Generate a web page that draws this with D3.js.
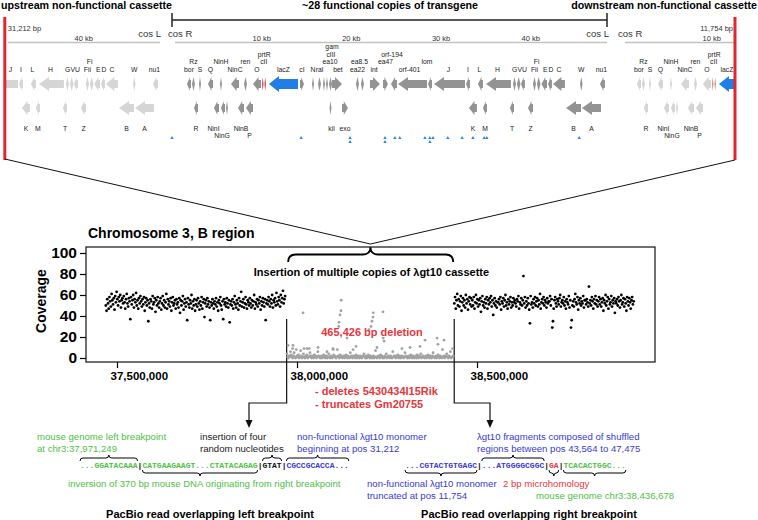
<!DOCTYPE html>
<html>
<head>
<meta charset="utf-8">
<script src="https://cdn.jsdelivr.net/npm/d3@7"></script>
<style>
  body { margin: 0; background: #fff; }
  svg { display: block; font-family: "Liberation Sans", Arial, sans-serif; }
</style>
</head>
<body>
<script>
// ---------------- data ----------------
// lambda map genes: [label, startKb, endKb, strand, labelLevel, labelDx, kind]
const genesTop = [
  ["bor", 1.67, 2.12, -1, 0, 0, "g"], ["Rz", 2.23, 2.56, -1, 1, 0, "g"],
  ["S", 3.01, 3.23, -1, 0, 0, "g"], ["Q", 4.01, 4.57, -1, 0, 0, "g"],
  ["NinH", 5.35, 5.57, -1, 1, 0, "g"], ["NinC", 6.58, 7.47, -1, 0, 0, "g"],
  ["ren", 8.03, 8.36, -1, 1, 0, "g"], ["O", 9.03, 9.92, -1, 0, 0, "g"],
  ["cII", 10.03, 10.2, -1, 1, 1, "r"], ["prtR", 10.31, 10.48, -1, 2, -1, "r"],
  ["lacZ", 10.81, 14.05, -1, 0, 0, "b"], ["cI", 14.27, 14.72, 1, 0, 0, "g"],
  ["N", 15.61, 15.83, 1, 0, 0, "g"], ["ral", 16.28, 16.61, 1, 0, 0, "g"],
  ["ea10", 16.83, 17.06, 1, 1, 6, "g"], ["cIII", 17.17, 17.39, 1, 2, 4, "g"],
  ["gam", 17.5, 17.84, 1, 3, 1.5, "g"], ["bet", 17.84, 18.95, 1, 0, 1, "g"],
  ["ea22", 20.51, 20.85, 1, 0, 0, "g"], ["ea8.5", 21.07, 21.4, 1, 1, -3, "g"],
  ["int", 22.07, 23.19, 1, 0, -1, "g"], ["ea47", 23.52, 24.08, 1, 1, 0, "g"],
  ["orf-194", 24.41, 25.08, -1, 2, -2, "g"], ["orf-401", 25.2, 28.43, -1, 0, -3, "g"],
  ["lom", 28.54, 28.99, -1, 1, -3, "g"], ["J", 29.21, 32.67, -1, 0, -1, "g"],
  ["I", 32.78, 33.22, -1, 0, 0, "g"], ["L", 34.11, 34.67, -1, 0, -1, "g"],
  ["H", 35.01, 37.79, -1, 0, -1, "g"], ["GVU", 38.02, 38.35, -1, 0, 5, "g"],
  ["", 38.46, 38.85, -1, 0, 0, "g"], ["", 38.91, 39.35, -1, 0, 0, "g"],
  ["Fii", 40.25, 40.58, -1, 0, 0, "g"], ["Fi", 40.69, 41.08, -1, 1, -2, "g"],
  ["E", 41.19, 41.81, -1, 0, 1, "g"], ["D", 41.92, 42.36, -1, 0, 1, "g"],
  ["C", 42.48, 43.81, -1, 0, 0, "g"], ["W", 45.49, 45.77, -1, 0, 0, "g"],
  ["nu1", 47.72, 48.27, -1, 0, -1, "g"]
];
const genesBottom = [
  ["R", 2.45, 2.9, -1, 0, 0, "g"], ["NinI", 4.68, 5.24, -1, 0, -3, "g"],
  ["NinG", 5.46, 5.91, -1, 1, -1, "g"], ["", 6.02, 6.24, -1, 0, 0, "g"],
  ["NinB", 7.36, 8.03, -1, 0, 0, "g"], ["P", 8.25, 9.03, -1, 1, 0, "g"],
  ["kil", 17.56, 17.78, 1, 0, 1, "g"], ["exo", 18.95, 19.62, 1, 0, 0, "g"],
  ["K", 33.11, 34.0, -1, 0, 0, "g"], ["M", 34.67, 35.12, -1, 0, 0, "g"],
  ["T", 37.68, 38.13, -1, 0, 0, "g"], ["Z", 39.69, 40.25, -1, 0, 0, "g"],
  ["B", 43.93, 45.6, -1, 0, 0, "g"], ["A", 45.71, 47.83, -1, 0, 0, "g"]
];
// blue markers under the functional copy (kb)
const markerKb = [0.0, 14.4, 19.85, 19.85, 23.75, 23.75, 24.85, 25.4, 28.2, 28.75, 28.75,
                  29.1, 30.75, 32.35, 33.55, 34.8, 35.1, 45.4];
// three cassette copies: upstream (partial), functional, downstream (partial)
const copyOffsetKb = [-49.84, 0, 50.17];
const copyStartKb = [31.2, 0, 0];
const copyEndKb = [48.5, 48.5, 12.6];
const kbTicks = [10, 20, 30, 40];

// coverage (2 kb bins)
const binSize = 2000;
const leftStart = 37469000, delStart = 37972000, rightStart = 38437000;
const leftBreak = 37971249, rightBreak = 38436678;
const leftCov = [
  50,45,56,52,47,58,54,49,61,55,51,57,46,59,53,63,56,50,58,54,60,48,55,57,52,
  59,53,47,56,61,52,49,57,54,37,58,51,55,60,48,56,53,62,50,55,47,57,52,59,54,
  49,56,51,58,45,53,57,50,55,35,52,48,56,54,47,59,51,53,57,44,55,50,58,52,48,
  54,57,46,52,59,50,55,48,53,61,47,56,51,54,49,57,45,53,58,50,52,55,47,56,51,
  53,48,57,43,55,50,54,59,46,52,56,49,53,36,57,51,48,55,52,60,47,54,50,56,45,
  51,55,49,57,52,46,54,50,58,47,53,56,39,52,55,49,57,51,54,48,36,53,50,56,52,
  47,54,51,57,49,53,45,55,52,58,50,46,54,37,56,51,53,49,57,52,48,55,34,51,54,
  50,56,47,53,59,51,48,55,52,46,57,50,54,63,49,53,56,48,52,58,51,47,55,53,50,
  57,52,48,55,50,54,60,47,53,51,56,49,55,52,58,46,54,50,57,53,49,56,36,52,55,
  51,58,54,49,56,52,60,48,55,53,57,50,62,54,51,58,55,49,60,53,57,64,52,56,59
];
const delCov = [
  4,1,0,2,1,6,3,1,0,2,5,1,0,8,2,1,3,0,1,7,2,0,1,4,1,
  0,2,1,3,0,1,9,2,1,0,2,1,0,3,1,2,0,1,6,2,1,0,1,2,0,
  1,3,2,0,1,2,0,1,4,1,0,2,1,0,1,3,2,1,0,1,8,2,1,0,3,
  2,1,0,1,2,0,1,3,1,0,2,1,0,5,1,2,0,1,2,1,0,3,1,0,2,
  1,0,2,1,0,1,2,4,1,0,2,0,1,3,1,0,2,1,0,1,2,0,1,7,1,
  0,1,2,1,0,3,1,2,0,1,0,2,1,4,0,1,2,1,0,2,1,0,6,1,2,
  1,0,2,1,3,0,1,2,0,1,2,1,0,1,5,2,1,0,1,2,0,1,3,1,0,
  2,1,0,1,2,0,3,1,0,2,1,4,0,1,2,1,0,1,2,0,1,3,1,0,2,
  1,0,2,5,1,0,1,2,0,1,3,1,0,2,1,0,8,1,2,0,1,2,4,1,0,
  2,1,6,0,1,9,2
];
const delSpikes = [
  [37975000,12],[37988900,12],[37988000,9],[38016700,43],[38019500,9],[38027800,9],
  [38036100,5],[38058400,10],[38083300,6],[38100000,9],[38100500,8],[38116700,34],
  [38116000,30],[38119500,41],[38122200,45],[38122800,55],[38138900,19],[38155600,8],
  [38163900,11],[38200000,27],[38205600,30],[38208300,35],[38211100,39],[38211900,43],
  [38222200,10],[38238900,44],[38239500,19],[38241700,16],[38291700,9],[38313900,10],
  [38341700,11],[38355600,17],[38388900,19],[38391700,13],[38408300,17]
];
const rightCov = [
  52,58,47,55,61,50,56,49,54,59,45,53,57,50,55,48,60,52,56,46,54,58,51,57,49,
  55,50,58,47,53,60,52,56,49,55,51,57,44,54,59,50,53,48,56,52,58,47,55,51,57,
  53,59,49,55,41,52,57,50,54,48,53,53,56,51,58,46,54,52,57,49,55,60,50,53,47,
  56,51,54,58,48,53,50,57,53,55,52,49,56,54,59,47,53,51,57,50,55,78,52,58,48,
  54,50,57,52,46,33,59,51,53,48,56,52,58,50,54,57,49,55,51,61,47,53,56,52,58,
  50,55,53,48,57,52,54,54,59,50,56,29,35,47,55,58,52,49,56,54,51,57,60,49,53,
  55,52,58,50,54,47,56,53,51,59,48,55,29,36,50,54,49,56,61,53,51,58,46,55,52,
  57,50,54,52,59,48,55,55,51,56,53,49,68,52,55,50,58,54,47,56,52,59,51,55,49,
  54,58,51,56,49,53,57,45,55,52,60,50,54,58,47,56,51,53,59,49,55,52,57,43,54,
  52,56,50,58,54,48,55,60,51,53,57,49,56,52,45,58,54,50,57,53,47,55,58,51,54
];
const yTicks = [0, 20, 40, 60, 80, 100];
const xTicks = [37500000, 38000000, 38500000];

// breakpoint read sequences: [text, colour key]
const seqLeft = [["...GGATACAAA", "green"], ["|", "black"], ["CATGAAGAAGT...CTATACAGAG", "green"],
                 ["|GTAT|", "black"], ["CGCCGCACCA...", "blue"]];
const seqRight = [["...CGTACTGTGAGC", "blue"], ["|", "black"], ["...ATGGGGCGGC", "blue"],
                  ["|", "black"], ["GA", "red"], ["|", "black"], ["TCACACTGGC...", "green"]];

// ---------------- drawing ----------------
const width = 758, height = 520;
const col = { green: "#4fbf45", blue: "#3a3ad2", red: "#e8363b", black: "#111" };

const svg = d3.select("body").append("svg")
  .attr("width", width)
  .attr("height", height);

function txt(x, y, s, opts = {}) {
  return svg.append("text")
    .attr("x", x).attr("y", y)
    .attr("font-size", opts.size || 9.6)
    .attr("font-weight", opts.bold ? "bold" : null)
    .attr("text-anchor", opts.anchor || "start")
    .attr("fill", opts.fill || "#000")
    .text(s);
}

// curly brace, tip pointing up (up=true) or down
function brace(x0, x1, yEnd, h, up, xm, sw) {
  xm = xm ?? (x0 + x1) / 2;
  const s = up ? -1 : 1;
  const yBar = yEnd + s * h / 2, yTip = yEnd + s * h;
  const r = Math.min(h / 2, (x1 - x0) / 4);
  svg.append("path")
    .attr("d", `M${x0},${yEnd} Q${x0},${yBar} ${x0 + r},${yBar} L${xm - r},${yBar} Q${xm},${yBar} ${xm},${yTip}` +
               ` Q${xm},${yBar} ${xm + r},${yBar} L${x1 - r},${yBar} Q${x1},${yBar} ${x1},${yEnd}`)
    .attr("fill", "none").attr("stroke", "#000").attr("stroke-width", sw || 1);
}

// ---- top: lambda cassette map ----
const xKb = d3.scaleLinear().domain([0, 48.5]).range([172, 607]);

txt(1, 9, "upstream non-functional cassette", { size: 10.7, bold: true });
txt(390, 9, "~28 functional copies of transgene", { size: 10.7, bold: true, anchor: "middle" });
txt(757, 9, "downstream non-functional cassette", { size: 10.7, bold: true, anchor: "end" });

// bracket over functional copy
svg.append("path")
  .attr("d", `M${xKb(0)},13 V27 M${xKb(0)},20 H${xKb(48.5)} M${xKb(48.5)},13 V27`)
  .attr("fill", "none").attr("stroke", "#222").attr("stroke-width", 1.5);

function genePath(x0, x1, strand, yc, hh, bh) {
  const w = x1 - x0;
  if (w < 3.5) {
    const xm = (x0 + x1) / 2;
    return `M${x0},${yc} L${xm},${yc - hh / 2} L${x1},${yc} L${xm},${yc + hh / 2} Z`;
  }
  const head = Math.min(10, w * 0.7);
  if (strand < 0) {
    const xh = x0 + head;
    return `M${x0},${yc} L${xh},${yc - hh / 2} L${xh},${yc - bh / 2} L${x1},${yc - bh / 2} L${x1},${yc + bh / 2} L${xh},${yc + bh / 2} L${xh},${yc + hh / 2} Z`;
  }
  const xh = x1 - head;
  return `M${x1},${yc} L${xh},${yc - hh / 2} L${xh},${yc - bh / 2} L${x0},${yc - bh / 2} L${x0},${yc + bh / 2} L${xh},${yc + bh / 2} L${xh},${yc + hh / 2} Z`;
}

const defs = svg.append("defs");
const rowY = [84, 108];
const topLabelY = [72, 64.4, 56.8, 49.2];
const botLabelY = [130.5, 138];

copyOffsetKb.forEach((off, ci) => {
  const lo = xKb(copyStartKb[ci] + off), hi = xKb(copyEndKb[ci] + off);
  const cosR = xKb(0 + off), cosL = xKb(48.5 + off);
  const functional = ci === 1;
  const gray = functional ? "#939393" : "#d5d5d5";
  const fillOf = k => k === "b" ? "#1f7fe6" : k === "r" ? (functional ? "#d9484c" : "#e08a8a") : gray;

  defs.append("clipPath").attr("id", "clip" + ci)
    .append("rect").attr("x", lo).attr("y", 40).attr("width", hi - lo).attr("height", 80);
  const g = svg.append("g").attr("clip-path", `url(#clip${ci})`);

  // scale line and kb labels
  const l0 = Math.max(lo + 3, cosR), l1 = Math.min(hi, cosL);
  svg.append("line").attr("x1", l0).attr("x2", l1).attr("y1", 42.5).attr("y2", 42.5)
    .attr("stroke", "#c2c2c2").attr("stroke-width", 1.6);
  kbTicks.filter(k => k > copyStartKb[ci] + 1 && k < copyEndKb[ci] - 1).forEach(k => {
    txt(xKb(k + off), 40.5, `${k} kb`, { size: 7.5, anchor: "middle", fill: "#333" });
  });

  [[genesTop, rowY[0], topLabelY], [genesBottom, rowY[1], botLabelY]].forEach(([genes, yc, labY]) => {
    genes.forEach(([label, s, e, strand, lev, dx, kind]) => {
      const x0 = xKb(s + off), x1 = xKb(e + off);
      if (x1 <= lo || x0 >= hi) return;
      const big = kind === "b";
      g.append("path")
        .attr("d", genePath(x0, x1, strand, yc, big ? 16 : 14, big ? 10 : 8))
        .attr("fill", fillOf(kind));
      if (label) {
        const cx = (Math.max(x0, lo) + Math.min(x1, hi)) / 2 + dx;
        txt(cx, labY[lev], label, { size: 6.8, anchor: "middle", fill: "#222" });
      }
    });
  });
});

// cos labels
[[xKb(48.5 - 49.84) + 1, "cos L", "end"], [xKb(0) - 4, "cos R", "start"],
 [xKb(48.5) + 2, "cos L", "end"], [xKb(50.17) - 4, "cos R", "start"]].forEach(([x, s, a]) => {
  txt(x, 37, s, { size: 9.5, anchor: a, fill: "#333" });
});
txt(xKb(31.2 - 49.84) + 3, 31, "31,212 bp", { size: 7.5, fill: "#333" });
txt(xKb(12.6 + 50.17) - 2, 31, "11,754 bp", { size: 7.5, anchor: "end", fill: "#333" });

// blue markers
const seen = {};
markerKb.forEach(k => {
  const n = seen[k] = (seen[k] || 0) + 1;
  const x = xKb(k), y = 139 + (n - 1) * 4;
  svg.append("path").attr("d", `M${x - 1.7},${y} L${x + 1.7},${y} L${x},${y - 3} Z`).attr("fill", "#2a85e0");
});

// red cassette boundaries
const redL = xKb(31.2 - 49.84), redR = xKb(12.6 + 50.17);
[redL, redR].forEach(x => {
  svg.append("line").attr("x1", x).attr("x2", x).attr("y1", 17).attr("y2", 160)
    .attr("stroke", "#e3262b").attr("stroke-width", 3);
});

// ---- coverage plot ----
const plot = { left: 86, right: 655, top: 247, bottom: 362 };
const xCov = d3.scaleLinear().domain([37413900, 38994400]).range([plot.left, plot.right]);
const yCov = d3.scaleLinear().domain([0, 100]).range([358, 253]);
const tipX = (xCov(leftBreak) + xCov(rightBreak)) / 2;

// connector lines from cassette edges to the insertion brace
svg.append("path")
  .attr("d", `M${redL},159 L${tipX},244 L${redR},160`)
  .attr("fill", "none").attr("stroke", "#111").attr("stroke-width", 1);
brace(xCov(leftBreak) + 1.5, xCov(rightBreak) - 1, 262, 15, true, tipX, 1.8);

txt(88, 238, "Chromosome 3, B region", { size: 14, bold: true });
txt(tipX + 1, 276, "Insertion of multiple copies of λgt10 cassette", { size: 11, bold: true, anchor: "middle" });

svg.append("rect")
  .attr("x", plot.left).attr("y", plot.top)
  .attr("width", plot.right - plot.left).attr("height", plot.bottom - plot.top)
  .attr("fill", "none").attr("stroke", "#111").attr("stroke-width", 1.2);

const yAxis = svg.append("g").attr("transform", `translate(${plot.left},0)`)
  .call(d3.axisLeft(yCov).tickValues(yTicks).tickSize(6).tickPadding(3));
yAxis.select(".domain").remove();
yAxis.selectAll("text").attr("font-size", 15.5).attr("font-weight", "bold")
  .attr("font-family", "Liberation Sans, Arial, sans-serif");
yAxis.selectAll("line").attr("stroke-width", 1.2);

const xAxis = svg.append("g").attr("transform", `translate(0,${plot.bottom})`)
  .call(d3.axisBottom(xCov).tickValues(xTicks).tickSize(6).tickFormat(d3.format(",")));
xAxis.select(".domain").remove();
xAxis.selectAll("text").attr("font-size", 11.5).attr("font-weight", "bold")
  .attr("font-family", "Liberation Sans, Arial, sans-serif")
  .attr("text-anchor", "start").attr("x", -7).attr("y", 18).attr("dy", 0);
xAxis.selectAll("line").attr("stroke-width", 1.2);

svg.append("text")
  .attr("transform", `translate(46,301) rotate(-90)`)
  .attr("text-anchor", "middle").attr("font-size", 14).attr("font-weight", "bold")
  .text("Coverage");

// breakpoint marker lines and arrows
[[xCov(leftBreak), 249], [xCov(rightBreak), 490]].forEach(([x, xa]) => {
  svg.append("path").attr("d", `M${x},319 V403 H${xa} V421`)
    .attr("fill", "none").attr("stroke", "#111").attr("stroke-width", 1.2);
  svg.append("path").attr("d", `M${xa - 3.5},420 L${xa + 3.5},420 L${xa},428 Z`).attr("fill", "#111");
});

// points
const gray = delCov.map((v, i) => [delStart + i * binSize, v]).concat(delSpikes);
svg.append("g").selectAll("circle").data(gray).join("circle")
  .attr("cx", d => xCov(d[0])).attr("cy", d => yCov(d[1])).attr("r", 1.4).attr("fill", "#a2a2a2");
const black = leftCov.map((v, i) => [leftStart + i * binSize, v])
  .concat(rightCov.map((v, i) => [rightStart + i * binSize, v]));
svg.append("g").selectAll("circle").data(black).join("circle")
  .attr("cx", d => xCov(d[0])).attr("cy", d => yCov(d[1])).attr("r", 1.4).attr("fill", "#000");

txt(372, 336, "465,426 bp deletion", { size: 11, bold: true, anchor: "middle", fill: col.red });
txt(315, 395, "- deletes 5430434I15Rik", { size: 11, bold: true, fill: col.red });
txt(315, 408, "- truncates Gm20755", { size: 11, bold: true, fill: col.red });

// ---- breakpoint reads ----
const cw = 4.8; // char advance of 8px mono
function seqLine(x0, y, parts) {
  const t = svg.append("text").attr("x", x0).attr("y", y)
    .attr("font-family", "Liberation Mono, Courier New, monospace")
    .attr("font-size", 8).attr("font-weight", "bold");
  parts.forEach(([s, c]) => t.append("tspan").attr("fill", col[c]).text(s));
}
const sxL = 80, sxR = 405;
seqLine(sxL, 468, seqLeft);
seqLine(sxR, 468, seqRight);
const cx = (x0, i) => x0 + i * cw;

brace(cx(sxL, 0), cx(sxL, 12), 461, 6, true);
brace(cx(sxL, 38), cx(sxL, 42), 461, 6, true);
brace(cx(sxL, 43), cx(sxL, 56), 461, 6, true);
brace(cx(sxL, 13), cx(sxL, 37), 470, 6, false);
brace(cx(sxR, 16), cx(sxR, 29), 461, 6, true);
brace(cx(sxR, 0), cx(sxR, 15), 470, 6, false);
brace(cx(sxR, 30), cx(sxR, 32), 470, 6, false);
brace(cx(sxR, 33), cx(sxR, 46), 470, 6, false);

txt(37, 440, "mouse genome left breakpoint", { fill: col.green });
txt(37, 452, "at chr3:37,971,249", { fill: col.green });
txt(200, 440, "insertion of four", { fill: "#222" });
txt(200, 452, "random nucleotides", { fill: "#222" });
txt(297, 440, "non-functional λgt10 monomer", { fill: col.blue });
txt(297, 452, "beginning at pos 31,212", { fill: col.blue });
txt(68, 487, "inversion of 370 bp mouse DNA originating from right breakpoint", { fill: col.green });
txt(210, 518, "PacBio read overlapping left breakpoint", { size: 11, bold: true, anchor: "middle" });

txt(477, 440, "λgt10 fragments composed of shuffled", { fill: col.blue });
txt(477, 452, "regions between pos 43,564 to 47,475", { fill: col.blue });
txt(367, 487, "non-functional λgt10 monomer", { fill: col.blue });
txt(367, 499, "truncated at pos 11,754", { fill: col.blue });
txt(503, 487, "2 bp microhomology", { fill: col.red });
txt(536, 499, "mouse genome chr3:38,436,678", { fill: col.green });
txt(529, 518, "PacBio read overlapping right breakpoint", { size: 11, bold: true, anchor: "middle" });
</script>
</body>
</html>
